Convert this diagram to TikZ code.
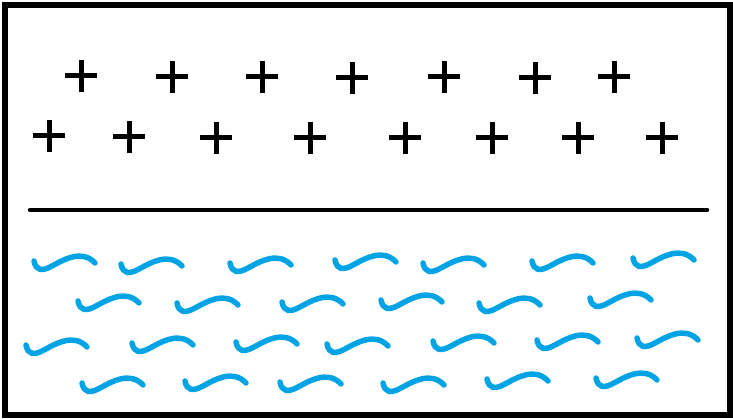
\documentclass[tikz,border=0pt]{standalone}
\usetikzlibrary{calc}
\definecolor{sea}{RGB}{0,164,228}

\begin{document}
\begin{tikzpicture}[x=1pt, y=-1pt,
    frame/.style={draw, line width=5.5pt},
    surface/.style={draw, line width=4.5pt, line cap=round},
    charge/.style={draw, line width=5pt},
    wave/.style={draw=sea, line width=5.5pt, line cap=round}]
  \useasboundingbox (0,0) rectangle (733,419);
  \draw[frame] (5,5) rectangle (730,415);
  % surface between the two layers
  \coordinate (surfL) at (30,210);
  \coordinate (surfR) at (707,210);
  \draw[surface] (surfL) -- (surfR);
  % positive charges
  \foreach \x/\y in {81/76, 172/77, 262/77, 352/78, 444/77, 535/78, 614/77,
                     49/136, 129/137, 216/138, 310/138, 405/138, 492/138, 578/138, 662/138}
    \draw[charge] (\x,\y) +(-16,0) -- +(16,0) +(0,-16) -- +(0,16);
  % water
  \foreach \x/\y in {34/261, 121/264, 230/263, 335/260, 423/263, 532/261, 633/258,
                     78/301, 177/303, 282/302, 381/300, 479/303, 590/298,
                     26/345, 132/343, 236/342, 327/344, 433/341, 537/340, 637/338,
                     82/383, 185/381, 280/382, 383/383, 487/379, 596/378}
    \draw[wave, shift={(\x,\y)}] (0,0) .. controls (2,10) and (8,10.5) .. (18,5)
      .. controls (30,-1.5) and (48,-12) .. (61,2);
\end{tikzpicture}
\end{document}
